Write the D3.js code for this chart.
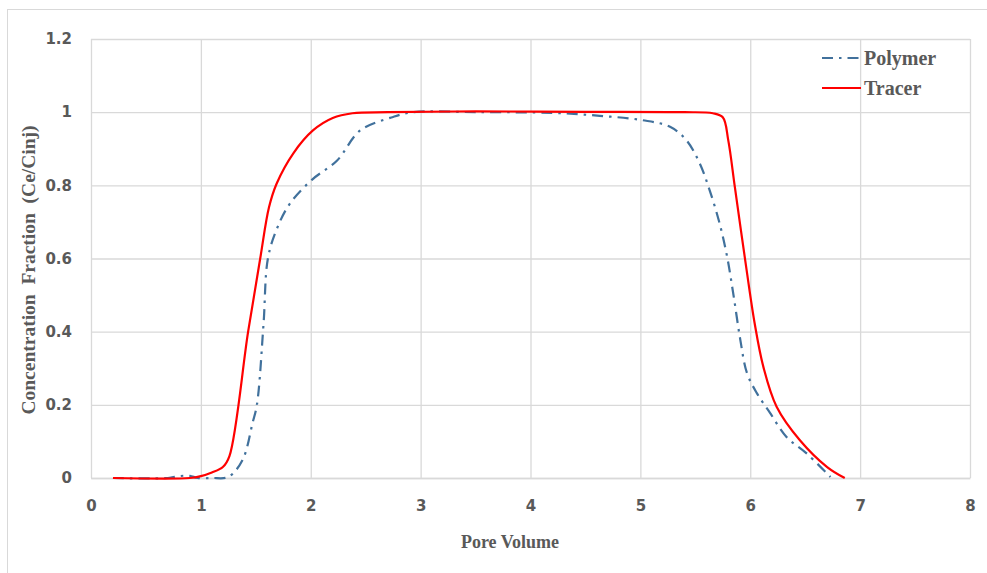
<!DOCTYPE html>
<html>
<head>
<meta charset="utf-8">
<script src="https://cdn.jsdelivr.net/npm/d3@7"></script>
<style>
  body { margin: 0; background: #fff; }
  svg { display: block; }
</style>
</head>
<body>
<div id="chart"></div>
<script>
// Breakthrough curves
const xTicks = [0, 1, 2, 3, 4, 5, 6, 7, 8];
const yTicks = [0, 0.2, 0.4, 0.6, 0.8, 1, 1.2];
const yTickLabels = ["0", "0.2", "0.4", "0.6", "0.8", "1", "1.2"];

const tracerX = [0.2, 0.9, 1.0, 1.1, 1.2, 1.26, 1.43, 1.54, 1.62, 1.69, 1.84, 2.02, 2.2, 2.38, 2.7, 3.5, 4.5, 5.4, 5.66, 5.75, 5.8, 5.86, 5.95, 6.04, 6.12, 6.24, 6.45, 6.7, 6.86];
const tracerY = [0, 0, 0.005, 0.015, 0.03, 0.06, 0.4, 0.6, 0.74, 0.805, 0.887, 0.95, 0.984, 0.997, 1.0, 1.002, 1.001, 1.0, 0.997, 0.986, 0.923, 0.795, 0.604, 0.423, 0.303, 0.195, 0.104, 0.03, 0];

const polymerX = [0.2, 0.7, 0.8, 0.9, 0.97, 1.1, 1.25, 1.38, 1.47, 1.51, 1.57, 1.61, 1.69, 1.81, 2.01, 2.24, 2.45, 2.75, 2.93, 3.5, 4.2, 4.63, 5.02, 5.27, 5.42, 5.54, 5.63, 5.72, 5.79, 5.85, 5.91, 5.97, 6.06, 6.18, 6.33, 6.51, 6.73];
const polymerY = [0, 0, 0.005, 0.006, 0, 0, 0.003, 0.05, 0.15, 0.2, 0.42, 0.6, 0.68, 0.75, 0.815, 0.868, 0.95, 0.987, 1.0, 1.0, 0.998, 0.99, 0.978, 0.96, 0.923, 0.86, 0.787, 0.697, 0.604, 0.495, 0.377, 0.287, 0.232, 0.178, 0.112, 0.068, 0.003];

const seriesNames = ["Polymer", "Tracer"];
const seriesColors = ["#41719c", "#ff0000"];

const W = 987, H = 573;
const margin = { top: 39, right: 17, bottom: 95, left: 91 };
const width = W - margin.left - margin.right;
const height = H - margin.top - margin.bottom;

const svg = d3.select("#chart").append("svg")
    .attr("width", W)
    .attr("height", H);

// outer chart frame (only top/left visible in the crop)
svg.append("rect")
    .attr("x", 7.5).attr("y", 9.5)
    .attr("width", W + 20).attr("height", H + 20)
    .attr("fill", "none")
    .attr("stroke", "#d9d9d9")
    .attr("stroke-width", 1);

const g = svg.append("g")
    .attr("transform", `translate(${margin.left},${margin.top})`);

const x = d3.scaleLinear().domain([0, 8]).range([0, width]);
const y = d3.scaleLinear().domain([0, 1.2]).range([height, 0]);

// grid lines
g.append("g")
    .attr("class", "grid")
    .attr("transform", `translate(0,${height})`)
    .call(d3.axisBottom(x).tickValues(xTicks).tickSize(-height).tickFormat(""))
    .call(s => s.select(".domain").remove())
    .selectAll("line")
    .attr("stroke", "#d9d9d9")
    .attr("stroke-width", 1.3);

g.append("g")
    .attr("class", "grid")
    .call(d3.axisLeft(y).tickValues(yTicks).tickSize(-width).tickFormat(""))
    .call(s => s.select(".domain").remove())
    .selectAll("line")
    .attr("stroke", "#d9d9d9")
    .attr("stroke-width", 1.3);

// x axis labels
g.append("g")
    .attr("class", "x-axis")
    .attr("transform", `translate(0,${height})`)
    .call(d3.axisBottom(x).tickValues(xTicks).tickSize(0).tickPadding(22).tickFormat(d3.format("d")))
    .call(s => s.select(".domain").attr("stroke", "#d9d9d9").attr("stroke-width", 1.5))
    .selectAll("text")
    .attr("font-size", "15px")
    .attr("font-weight", "bold")
    .attr("font-family", "'DejaVu Sans', sans-serif")
    .attr("fill", "#595959");

// y axis labels
g.append("g")
    .attr("class", "y-axis")
    .call(d3.axisLeft(y).tickValues(yTicks).tickSize(0).tickPadding(19).tickFormat((d, i) => yTickLabels[i]))
    .call(s => s.select(".domain").remove())
    .selectAll("text")
    .attr("font-size", "15px")
    .attr("font-weight", "bold")
    .attr("font-family", "'DejaVu Sans', sans-serif")
    .attr("fill", "#595959");

// axis titles
svg.append("text")
    .attr("x", 510)
    .attr("y", 548)
    .attr("text-anchor", "middle")
    .attr("font-size", "18px")
    .attr("font-weight", "bold")
    .attr("font-family", "'Liberation Serif', serif")
    .attr("fill", "#595959")
    .text("Pore Volume");

svg.append("text")
    .attr("transform", "translate(35,270) rotate(-90)")
    .attr("text-anchor", "middle")
    .attr("font-size", "19.5px")
    .attr("font-weight", "bold")
    .attr("font-family", "'Liberation Serif', serif")
    .attr("fill", "#595959")
    .attr("xml:space", "preserve")
    .style("white-space", "pre")
    .text("Concentration  Fraction  (Ce/Cinj)");

// lines
const line = d3.line()
    .x(d => x(d[0]))
    .y(d => y(d[1]))
    .curve(d3.curveCatmullRom.alpha(0.5));

const polymer = polymerX.map((v, i) => [v, polymerY[i]]);
const tracer = tracerX.map((v, i) => [v, tracerY[i]]);

g.append("path")
    .datum(polymer)
    .attr("d", line)
    .attr("fill", "none")
    .attr("stroke", seriesColors[0])
    .attr("stroke-width", 2.2)
    .attr("stroke-dasharray", "11,6,2.5,6");

g.append("path")
    .datum(tracer)
    .attr("d", line)
    .attr("fill", "none")
    .attr("stroke", seriesColors[1])
    .attr("stroke-width", 2.2);

// legend
const legend = svg.append("g").attr("class", "legend");
seriesNames.forEach((name, i) => {
    const ly = 58 + i * 30;
    legend.append("line")
        .attr("x1", 822).attr("x2", 861)
        .attr("y1", ly).attr("y2", ly)
        .attr("stroke", seriesColors[i])
        .attr("stroke-width", 2.2)
        .attr("stroke-dasharray", i === 0 ? "11,6,2.5,6" : null);
    legend.append("text")
        .attr("x", 864)
        .attr("y", ly + 7)
        .attr("font-size", "20px")
        .attr("font-weight", "bold")
        .attr("font-family", "'Liberation Serif', serif")
        .attr("fill", "#595959")
        .text(name);
});
</script>
</body>
</html>
